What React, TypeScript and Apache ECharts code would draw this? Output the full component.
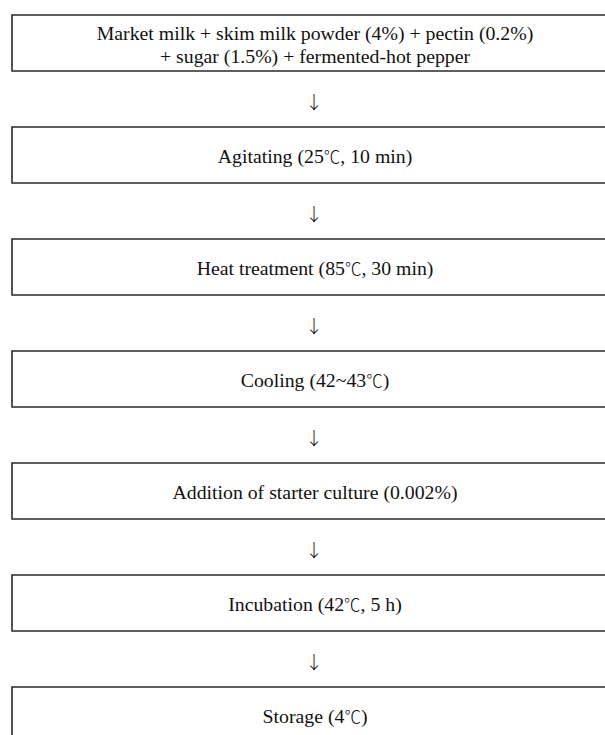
import React, { useEffect, useRef } from "react";
import * as echarts from "echarts";

const steps: string[] = [
  "Market milk + skim milk powder (4%) + pectin (0.2%)\n+ sugar (1.5%) + fermented-hot pepper",
  "Agitating (25℃, 10 min)",
  "Heat treatment (85℃, 30 min)",
  "Cooling (42~43℃)",
  "Addition of starter culture (0.002%)",
  "Incubation (42℃, 5 h)",
  "Storage (4℃)",
];
const arrowGlyph = "↓";

export default function App() {
  const ref = useRef<HTMLDivElement>(null);
  useEffect(() => {
    if (!ref.current) return;
    const chart = echarts.init(ref.current, undefined, { renderer: "svg" });
    const left = 12;
    const top0 = 15;
    const boxH = 56;
    const pitch = 112;
    const boxW = 620;
    const textX = 315;
    const arrowX = 314;
    const serif = "'Liberation Serif', 'Times New Roman', Tinos, serif";
    const cjk = "'Noto Sans CJK KR', sans-serif";
    const elements: any[] = [];
    steps.forEach((label, i) => {
      const y = top0 + i * pitch;
      elements.push({
        type: "rect",
        shape: { x: left, y, width: boxW, height: boxH },
        style: { fill: "#fff", stroke: "#2a2a2a", lineWidth: 1.6 },
      });
      const rich = label
        .split("\n")
        .map((line) =>
          line
            .split("℃")
            .map((p) => `{t|${p}}`)
            .join("{c|℃}")
        )
        .join("\n");
      elements.push({
        type: "text",
        x: textX,
        y: y + boxH / 2 + 1,
        style: {
          text: rich,
          fill: "#111",
          fontFamily: serif,
          fontSize: 19.8,
          align: "center",
          verticalAlign: "middle",
          lineHeight: 23,
          rich: {
            t: { fontFamily: serif, fontSize: 19.8, fill: "#111", lineHeight: 23 },
            c: { fontFamily: cjk, fontSize: 16.5, fill: "#111", lineHeight: 23, fontWeight: 300 },
          },
        },
      });
      if (i < steps.length - 1) {
        elements.push({
          type: "text",
          x: arrowX,
          y: y + boxH + (pitch - boxH) / 2 + 2,
          style: {
            text: arrowGlyph,
            fill: "#111",
            fontFamily: cjk,
            fontSize: 18,
            fontWeight: 300,
            align: "center",
            verticalAlign: "middle",
          },
        });
      }
    });
    chart.setOption({
      animation: false,
      backgroundColor: "#fff",
      graphic: { elements },
    });
    return () => chart.dispose();
  }, []);
  return (
    <div
      ref={ref}
      style={{ position: "fixed", left: 0, top: 0, width: 605, height: 735 }}
    />
  );
}
